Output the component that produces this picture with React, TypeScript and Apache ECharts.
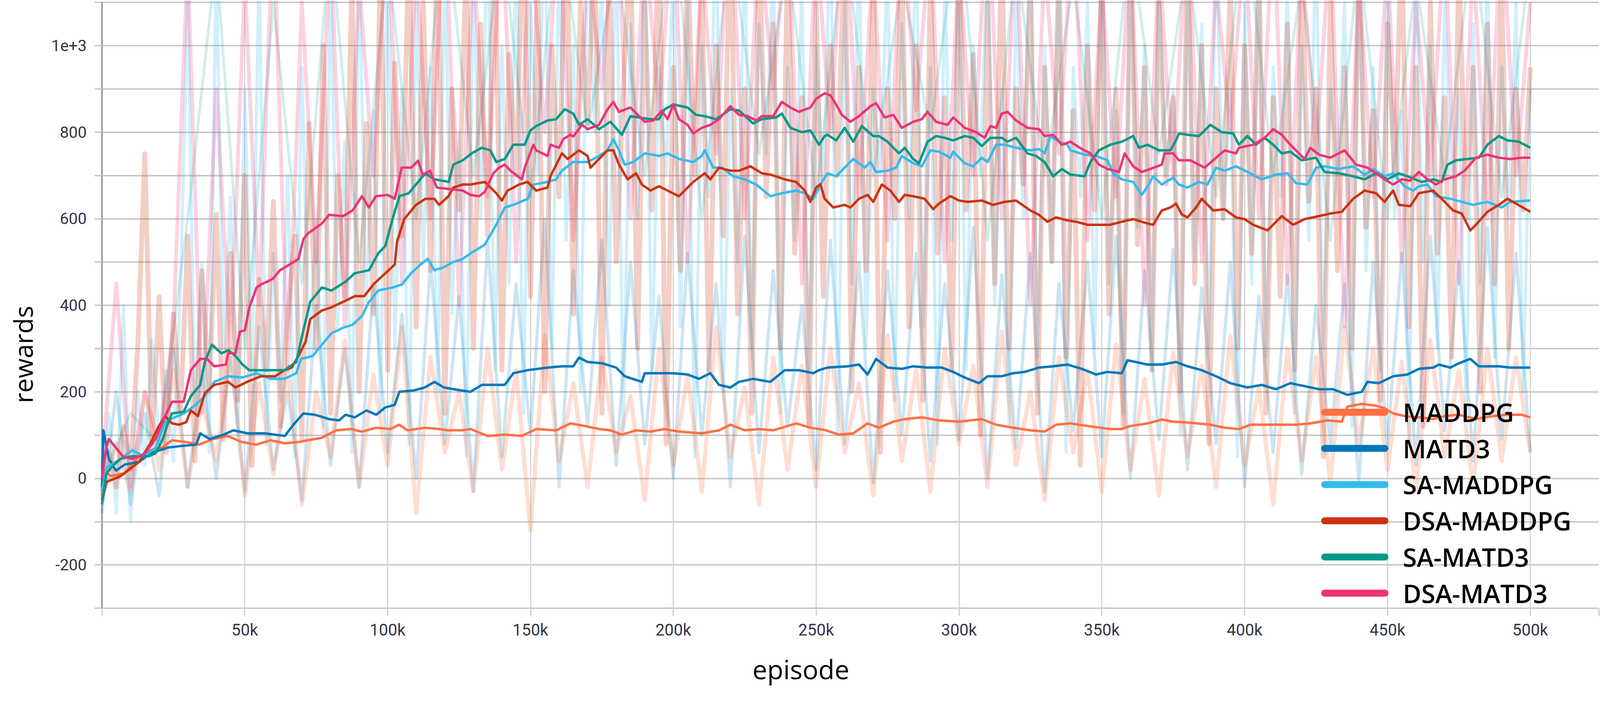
import React, { useEffect, useRef } from "react";
import * as echarts from "echarts";

// ---------- names, colours ----------
const SERIES_NAMES = ["MADDPG", "MATD3", "SA-MADDPG", "DSA-MADDPG", "SA-MATD3", "DSA-MATD3"];
const SERIES_COLORS = ["#ff7043", "#0077bb", "#33bbee", "#cc3311", "#009988", "#ee3377"];
const RAW_ALPHA = [0.24, 0.2, 0.23, 0.24, 0.18, 0.22];

// ---------- smoothed curves: [episode (k), reward] ----------
const maddpgSmooth: number[][] = [[0,-40],[1,18],[3,5],[8,12],[13,51],[17,65],[21,71],[24.5,88],[29.5,84],[34,78],[39,91],[44,98],[49,84],[54,78],[59,88],[64,81],[69,84],[72,88],[77,94],[82,111],[87,114],[91,108],[96,117],[101,114],[104,124],[107,111],[113,117],[118,114],[121,111],[126,111],[129,114],[135,98],[141,101],[147,98],[152,114],[159,111],[164,127],[169,121],[174,114],[178,111],[182,101],[187,111],[192,108],[197,114],[202,108],[210,104],[216,111],[220,124],[225,111],[230,114],[235,111],[243,127],[248,117],[253,112],[258,101],[263,104],[268,127],[272,117],[277,131],[281,137],[287,141],[293,134],[300,131],[308,137],[313,124],[319,117],[325,111],[330,108],[334,124],[339,127],[345,121],[353,114],[357,114],[360,121],[366,127],[371,136],[375,131],[380,129],[388,124],[393,117],[398,114],[402,124],[410,124],[418,124],[423,127],[429,134],[434,131],[436,166],[441,172],[446,168],[449,162],[452,150],[456,144],[461,141],[466,137],[470,144],[475,147],[481,137],[487,144],[492,147],[497,147],[500,141]];

const matd3Smooth: number[][] = [[0,-20],[0.5,111],[2.4,45],[4.9,18],[8,32],[13,38],[17,58],[23,71],[28,75],[33,78],[34.4,104],[37.7,91],[42.6,101],[46,111],[51,104],[57,104],[64,98],[67,124],[70.5,150],[74.6,147],[79.5,137],[83,134],[85.3,147],[88.5,141],[92.6,157],[96,147],[99.2,164],[102.5,170],[104.1,200],[109,203],[113,210],[116.4,223],[119.7,210],[126,203],[129,200],[133,216],[137,216],[141,216],[144,243],[149,250],[156,256],[161,259],[165,259],[167,279],[170,269],[175,266],[180,256],[183,236],[189,223],[190,243],[195,243],[200,243],[205,240],[209,230],[213,243],[216,216],[220,210],[223,223],[228,230],[234,223],[239,250],[244,250],[249,243],[251,250],[254,256],[261,259],[265,263],[268,240],[271,276],[275,256],[280,253],[284,259],[289,256],[294,256],[298,246],[302,233],[307,220],[310,236],[315,236],[319,243],[323,246],[328,256],[333,259],[338,263],[343,253],[348,240],[352,246],[357,243],[359,273],[366,263],[371,263],[376,269],[380,259],[385,250],[390,236],[395,220],[401,210],[406,216],[411,206],[416,220],[421,213],[426,206],[431,206],[436,193],[441,200],[443,223],[447,220],[452,236],[457,240],[461,253],[466,256],[468,263],[472,256],[475,266],[479,276],[482,259],[489,259],[493,256],[500,256]];

const saMaddpgSmooth: number[][] = [[0,-30],[1.6,25],[6.5,45],[10.6,65],[14.7,51],[18.8,71],[22.1,131],[25.4,141],[28.7,150],[32.8,170],[36,190],[39.3,223],[44.2,236],[49.2,233],[54,243],[59,230],[63.9,230],[68,243],[69.7,276],[73.8,283],[77,309],[80.3,335],[84.4,348],[87.7,355],[91,375],[93.5,408],[96.7,434],[101.7,441],[105,448],[108.2,474],[111.5,494],[114,507],[116.4,481],[119.7,488],[122.9,500],[126.3,507],[129,520],[134,540],[138,586],[141,626],[144,632],[149,646],[151,679],[156,685],[159,691],[161,711],[165,731],[170,731],[174,745],[177,758],[179,784],[181,758],[183,725],[186,731],[190,751],[195,745],[198,751],[202,738],[207,731],[210,745],[211,758],[214,718],[217,718],[221,698],[225,691],[229,679],[234,652],[238,659],[243,665],[246,659],[249,646],[252,685],[254,705],[257,698],[260,718],[263,738],[267,718],[269,731],[271,708],[275,711],[278,718],[280,745],[284,728],[287,721],[290,758],[293,755],[297,741],[298,755],[302,728],[305,721],[308,741],[310,731],[313,771],[316,771],[320,764],[325,758],[328,761],[330,751],[332,791],[335,778],[338,771],[339,758],[344,748],[348,745],[352,735],[354,705],[357,691],[361,685],[364,655],[366,675],[368,698],[371,679],[375,695],[377,679],[380,672],[384,685],[387,679],[390,718],[393,711],[397,721],[402,705],[406,691],[411,702],[415,705],[418,682],[422,679],[425,718],[428,721],[433,715],[438,721],[442,702],[445,715],[449,698],[452,705],[456,675],[459,665],[461,675],[464,679],[467,652],[472,646],[476,639],[480,632],[485,639],[490,626],[493,639],[500,642]];

const dsaMaddpgSmooth: number[][] = [[0,-50],[1.6,-8],[6.5,5],[13,38],[17.2,84],[19.6,117],[22.1,144],[24.5,127],[27,124],[29.5,130],[31.1,157],[33.6,144],[36,197],[39.3,216],[44.2,223],[46.7,210],[50.8,223],[55.7,236],[60.6,236],[63.9,250],[66.4,256],[68.8,283],[71.3,316],[72.9,368],[77,388],[80.3,395],[84.4,408],[88.5,421],[91.8,421],[95,448],[99.2,474],[102.5,494],[103.3,547],[105.8,599],[109.9,632],[113.2,646],[116.4,646],[118,632],[121.3,652],[123,672],[126.3,679],[129,679],[134,685],[138,659],[140,642],[142,665],[146,679],[149,685],[152,665],[156,672],[157,698],[161,751],[163,738],[167,758],[170,745],[171,718],[174,738],[177,758],[179,758],[181,725],[184,691],[187,705],[189,679],[192,665],[195,675],[198,665],[202,652],[207,685],[211,705],[213,691],[216,718],[220,711],[223,711],[227,721],[231,705],[234,702],[239,691],[243,685],[246,665],[248,639],[250,672],[251.5,680],[253,646],[256,626],[260,632],[262,626],[265,646],[268,655],[270,639],[273,679],[276,665],[279,639],[281,655],[284,652],[288,646],[291,622],[293,635],[297,652],[300,642],[303,639],[308,642],[312,632],[316,639],[320,642],[325,619],[328,609],[331,593],[334,603],[338,596],[341,593],[345,586],[349,586],[353,586],[357,593],[361,599],[366,589],[368,586],[371,619],[374,626],[376,635],[378,610],[380,603],[383,626],[385,646],[389,619],[393,622],[397,603],[400,599],[403,586],[408,573],[413,606],[417,586],[421,599],[426,606],[430,612],[434,616],[438,646],[442,665],[446,659],[449,639],[452,665],[454,632],[458,629],[461,659],[466,665],[469,646],[473,619],[476,612],[479,573],[481,586],[485,616],[489,632],[492,646],[495,635],[500,616]];

const saMatd3Smooth: number[][] = [[0,-60],[1.5,10],[3.2,25],[6.5,45],[10.6,51],[16.3,51],[18.8,58],[21.3,91],[22.9,124],[24.5,150],[28.6,154],[31.1,190],[34.4,216],[36,269],[38.5,309],[41.8,289],[44.2,296],[46.7,283],[49.2,263],[51.6,250],[57.4,250],[63.9,250],[68,269],[70.5,342],[72.9,408],[77,441],[80.3,434],[85.2,454],[88.5,474],[93.5,481],[96.7,520],[99.2,537],[101.7,599],[104.1,652],[107.4,659],[109.9,679],[113.2,705],[116.4,691],[121.4,685],[123,725],[126.3,735],[129.4,751],[133,764],[136,758],[138,731],[141,738],[144,771],[148,771],[150,804],[152,814],[156,827],[159,830],[162,853],[165,843],[167,817],[170,830],[174,807],[178,824],[182,794],[185,837],[188,834],[192,830],[195,830],[197,853],[200,864],[205,857],[208,840],[211,837],[215,830],[220,853],[223,850],[228,820],[231,830],[236,834],[238,843],[241,810],[245,800],[248,804],[251,771],[253,791],[254,794],[257,781],[260,810],[263,778],[266,814],[270,791],[272,791],[275,778],[279,751],[281,764],[284,738],[286,728],[289,778],[292,791],[295,787],[298,781],[302,791],[305,787],[308,768],[311,787],[315,787],[317,778],[320,787],[324,751],[327,745],[330,731],[333,698],[336,715],[339,702],[344,698],[346,731],[349,758],[353,771],[357,778],[361,791],[363,764],[366,771],[370,758],[374,758],[376,781],[377,797],[380,794],[384,791],[388,817],[392,800],[396,797],[398,771],[401,791],[404,771],[407,787],[410,771],[413,751],[416,755],[420,735],[425,741],[428,708],[433,705],[438,698],[442,691],[446,705],[450,691],[454,705],[457,698],[462,685],[466,691],[469,685],[471,725],[474,735],[478,738],[482,741],[485,771],[489,791],[492,781],[496,778],[500,764]];

const dsaMatd3Smooth: number[][] = [[0,0],[1.5,70],[2.4,91],[7.3,51],[10.6,45],[14.7,55],[18.8,91],[22.1,144],[24.5,177],[28.6,177],[31.1,250],[34.4,276],[36.8,276],[39.3,259],[43.4,263],[44.2,289],[46.7,289],[48.3,339],[50,342],[51.6,395],[54.1,441],[55.7,448],[59.8,461],[62.3,481],[66.4,497],[68.8,507],[70.5,553],[72.1,566],[77,589],[79.5,609],[84.4,606],[87.7,619],[91,652],[93.4,626],[95.9,652],[100,655],[102.5,646],[104.9,718],[108.2,718],[110.7,734],[112.3,702],[114.8,711],[117.2,672],[121.3,669],[126.3,665],[129,655],[132,652],[134,662],[137,705],[139,718],[141,725],[143,711],[147,691],[148,718],[151,771],[152,758],[156,745],[157,771],[160,764],[161.5,784],[164,794],[165,790],[168,817],[170,807],[174,817],[177,853],[179,870],[181,847],[185,857],[188,837],[190,824],[193,827],[196,850],[198,830],[200,864],[202,830],[205,817],[207,797],[210,810],[213,817],[216,830],[220,860],[223,840],[226,837],[229,827],[231,837],[235,837],[238,870],[241,857],[244,847],[248,857],[250,877],[253,890],[255,885],[257,864],[259,840],[262,824],[265,837],[269,860],[271,867],[274,834],[277,840],[280,810],[284,824],[287,830],[289,847],[292,824],[296,817],[298,834],[302,810],[306,800],[309,787],[311,814],[313,810],[315,843],[317,847],[320,827],[324,810],[328,807],[330,791],[333,794],[336,771],[339,778],[343,761],[346,751],[349,725],[352,715],[356,708],[358,751],[361,721],[364,708],[367,715],[371,725],[372,751],[375,751],[377,735],[381,735],[386,718],[389,735],[393,758],[397,751],[398,764],[403,771],[407,787],[410,807],[413,794],[416,771],[421,738],[423,764],[426,748],[430,741],[435,758],[439,725],[443,718],[446,705],[449,691],[452,679],[455,691],[458,688],[461,708],[464,691],[467,679],[470,691],[474,698],[477,711],[481,741],[485,748],[489,741],[493,738],[497,741],[500,741]];

// ---------- raw (unsmoothed) rewards, sampled on regular episode steps ----------
const RAW_STEP_FINE = 2.5;   // k episodes
const RAW_STEP_COARSE = 5;
const RAW_STEP_TEAL = 10;

const dsaMaddpgRaw = [
  -30,60,-20,120,20,300,750,80,420,60,380,150,560,40,480,200,610,90,520,180,
  700,30,460,250,640,120,380,560,90,820,300,1000,150,700,420,1150,200,820,380,1200,
  250,960,560,1250,350,1100,480,1300,150,900,620,1200,300,1050,560,1280,250,980,700,1300,
  420,1150,200,1000,650,1350,380,1100,820,1250,150,1200,500,900,1250,300,1100,620,1300,80,
  950,480,1200,700,1150,250,1000,560,1300,380,900,150,1250,650,1050,300,1200,520,880,120,
  1100,420,1000,700,1250,200,950,480,1150,60,900,600,1200,350,1000,180,1150,520,880,250,
  1200,620,980,100,1100,450,1250,300,900,680,1150,150,950,500,1200,280,850,30,1000,620,
  1150,380,900,120,1200,540,950,250,1100,680,880,200,1250,450,1000,80,900,600,1150,300,
  1000,520,1200,150,880,420,1050,250,1150,640,900,50,1100,480,950,300,1200,580,850,180,
  1050,700,1250,350,950,120,1100,520,880,280,1200,600,950,200,1050,450,1150,300,900,620,
  950,
];

const saMaddpgRaw = [
  -40,150,-80,400,-100,200,30,320,80,250,40,450,1100,150,500,60,1200,300,650,100,
  900,250,1200,80,520,180,700,50,950,280,600,120,1150,350,780,60,1200,400,850,150,
  1250,300,900,80,1100,500,950,200,1200,380,800,50,1150,600,1300,250,1000,450,1250,150,
  1100,700,1300,300,1200,550,1000,200,1250,800,1150,400,1300,100,1050,600,1250,250,950,700,
  1200,350,1100,50,1000,650,1300,200,900,500,1250,300,1050,750,1200,150,950,550,1150,250,
  1000,650,1300,100,1100,450,1250,300,900,700,1200,180,1050,600,1250,350,950,80,1150,550,
  1200,250,1000,700,1250,400,900,120,1150,600,1300,280,1000,500,1200,60,950,650,1100,300,
  1250,450,850,150,1200,580,1000,250,1150,700,900,100,1200,500,1050,300,1250,600,900,50,
  1100,450,1200,280,950,650,1150,150,1000,550,1250,300,900,700,1100,120,1200,480,950,250,
  1150,600,850,80,1200,500,1000,300,1100,650,900,150,1050,450,1200,280,950,600,1100,200,
  900,
];

const dsaMatd3Raw = [
  20,450,-20,200,80,350,1200,150,900,300,
  1150,400,1300,250,1100,500,1250,350,1150,700,
  1300,450,1200,600,1350,400,1200,650,1300,500,
  1250,800,1300,550,1200,900,1350,600,1250,850,
  1300,500,1200,750,1350,600,1250,900,1300,450,
  1250,800,1350,650,1200,550,1300,850,1250,500,
  1200,700,1350,600,1250,400,1200,750,1300,550,
  1150,650,1250,400,1200,700,1300,500,1150,800,
  1250,600,1300,450,1200,750,1250,350,1150,650,
  1200,500,1100,700,1250,450,1200,600,1300,700,
  1100,
];

const maddpgRaw = [
  -50,80,-30,200,20,250,-20,180,40,300,
  -40,220,10,260,-60,200,50,320,-20,240,
  30,350,-80,280,60,200,-30,300,20,250,
  -120,330,40,220,-20,280,60,190,-50,300,
  30,240,-30,350,50,210,-60,280,20,260,
  -20,300,60,220,-40,330,40,250,-30,300,
  80,260,-20,340,30,200,-50,280,60,250,
  -30,310,20,230,-40,290,50,260,-20,330,
  30,210,-60,300,40,280,-10,350,80,300,
  20,270,-30,320,50,250,-20,300,40,280,
  60,
];

const matd3Raw = [
  -80,200,-60,150,-40,300,-20,250,0,280,
  -30,350,20,200,-50,400,30,300,-20,450,
  60,380,0,500,80,420,-30,550,50,450,
  100,600,-20,480,120,550,30,500,80,420,
  0,520,100,450,-20,560,60,480,120,400,
  20,550,80,500,-10,480,100,520,40,450,
  90,580,0,470,70,520,-30,450,110,500,
  50,560,0,480,90,530,20,440,80,500,
  -20,420,60,470,10,400,80,450,-10,500,
  70,520,30,560,110,500,40,580,90,520,
  60,
];

const saMatd3Raw = [
  0,150,80,600,1200,300,1100,450,1250,500,
  1200,600,1300,700,1250,650,1300,800,1200,700,
  1300,600,1250,750,1200,650,1250,700,1150,800,
  1300,550,1200,700,1150,600,1250,750,1200,650,
  1300,700,1150,550,1200,600,1150,700,1250,650,
  1200,
];

// ---------- axis ticks ----------
const X_TICK_LABELS_K = [50, 100, 150, 200, 250, 300, 350, 400, 450, 500];
const Y_LABELED_TICKS = [-200, 0, 200, 400, 600, 800, 1000];

const SMOOTH = [maddpgSmooth, matd3Smooth, saMaddpgSmooth, dsaMaddpgSmooth, saMatd3Smooth, dsaMatd3Smooth];

// reference frame the layout was measured in
const REF_W = 4613;
const REF_H = 1806;

function hexToRgba(hex: string, a: number) {
  const n = parseInt(hex.slice(1), 16);
  return `rgba(${(n >> 16) & 255},${(n >> 8) & 255},${n & 255},${a})`;
}

function rawPairs(vals: number[], step: number) {
  return vals.map((v, i) => [i * step, v]);
}

export default function App() {
  const ref = useRef<HTMLDivElement>(null);

  useEffect(() => {
    const el = ref.current;
    if (!el) return;
    const W = el.clientWidth || window.innerWidth;
    const H = el.clientHeight || window.innerHeight;
    const sx = W / REF_W;
    const sy = H / REF_H;
    const f = Math.min(sx, sy);
    const X = (v: number) => v * sx;
    const Y = (v: number) => v * sy;
    const F = (v: number) => v * f;

    const chart = echarts.init(el, undefined, { renderer: "svg" });

    const rawDefs = [
      { idx: 4, data: rawPairs(saMatd3Raw, RAW_STEP_TEAL), w: 8 },
      { idx: 1, data: rawPairs(matd3Raw, RAW_STEP_COARSE), w: 9 },
      { idx: 2, data: rawPairs(saMaddpgRaw, RAW_STEP_FINE), w: 9 },
      { idx: 5, data: rawPairs(dsaMatd3Raw, RAW_STEP_COARSE), w: 11 },
      { idx: 0, data: rawPairs(maddpgRaw, RAW_STEP_COARSE), w: 12 },
      { idx: 3, data: rawPairs(dsaMaddpgRaw, RAW_STEP_FINE), w: 14 },
    ];

    const rawSeries = rawDefs.map((d) => ({
      name: SERIES_NAMES[d.idx] + " (raw)",
      type: "line",
      data: d.data,
      symbol: "none",
      showSymbol: false,
      silent: true,
      z: 1,
      lineStyle: { color: hexToRgba(SERIES_COLORS[d.idx], RAW_ALPHA[d.idx]), width: F(d.w), join: "round" },
      itemStyle: { color: SERIES_COLORS[d.idx] },
    }));

    const smoothSeries = SERIES_NAMES.map((name, i) => ({
      name,
      type: "line",
      data: SMOOTH[i],
      symbol: "none",
      showSymbol: false,
      z: 3,
      lineStyle: { color: SERIES_COLORS[i], width: F(7), join: "round" },
      itemStyle: { color: SERIES_COLORS[i] },
    }));

    const option: any = {
      animation: false,
      backgroundColor: "#ffffff",
      grid: { left: X(294), right: 0, top: Y(6), bottom: Y(248), containLabel: false },
      xAxis: {
        type: "value",
        min: 0,
        max: 524,
        interval: 50,
        axisLine: { show: false, onZero: false },
        axisTick: { show: true, length: Y(20), lineStyle: { color: "#c9c9c9", width: F(3) } },
        axisLabel: {
          margin: Y(34),
          fontSize: F(47),
          fontFamily: "Roboto",
          color: "#343446",
          formatter: (v: number) => (X_TICK_LABELS_K.indexOf(v) >= 0 ? `${v}k` : ""),
        },
        splitLine: { show: true, showMaxLine: false, lineStyle: { color: "#cfcfcf", width: F(3) } },
      },
      yAxis: {
        type: "value",
        min: -300,
        max: 1100,
        interval: 100,
        axisLine: { show: true, onZero: false, lineStyle: { color: "#9c9c9c", width: F(5) } },
        axisTick: { show: true, length: X(21), lineStyle: { color: "#c6c6c6", width: F(4) } },
        axisLabel: {
          margin: X(44),
          fontSize: F(46),
          fontFamily: "Roboto",
          color: "#343446",
          formatter: (v: number) =>
            Y_LABELED_TICKS.indexOf(v) >= 0 ? (v === 1000 ? "1e+3" : String(v)) : "",
        },
        splitLine: { show: true, lineStyle: { color: "#c4c4c4", width: F(4) } },
      },
      legend: {
        show: true,
        orient: "vertical",
        left: X(3809),
        top: Y(1056) - F(37),
        padding: 0,
        itemGap: Y(92.7) - F(74),
        itemWidth: F(194),
        itemHeight: F(20),
        selectedMode: false,
        icon: "path://M10,0 L184,0 A10,10 0 0 1 184,20 L10,20 A10,10 0 0 1 10,0 Z",
        textStyle: {
          fontSize: F(73),
          fontWeight: 600,
          fontFamily: "Open Sans",
          color: "#000000",
          lineHeight: F(74),
          padding: [0, 0, 0, F(36)],
        },
        data: SERIES_NAMES.map((name, i) => ({ name, itemStyle: { color: SERIES_COLORS[i] } })),
      },
      graphic: [
        {
          type: "text",
          x: X(66),
          y: Y(908),
          rotation: Math.PI / 2,
          style: {
            text: "rewards",
            fontSize: F(74),
            fontFamily: "Open Sans",
            fill: "#000000",
            align: "center",
            verticalAlign: "middle",
          },
        },
        {
          type: "text",
          x: X(2309),
          y: Y(1714),
          style: {
            text: "episode",
            fontSize: F(76),
            fontFamily: "Open Sans",
            fill: "#000000",
            align: "center",
            verticalAlign: "middle",
          },
        },
      ],
      series: [...rawSeries, ...smoothSeries],
    };

    chart.setOption(option);
    return () => {
      chart.dispose();
    };
  }, []);

  return (
    <div
      ref={ref}
      style={{ position: "fixed", left: 0, top: 0, width: "100vw", height: "100vh", background: "#fff" }}
    />
  );
}
